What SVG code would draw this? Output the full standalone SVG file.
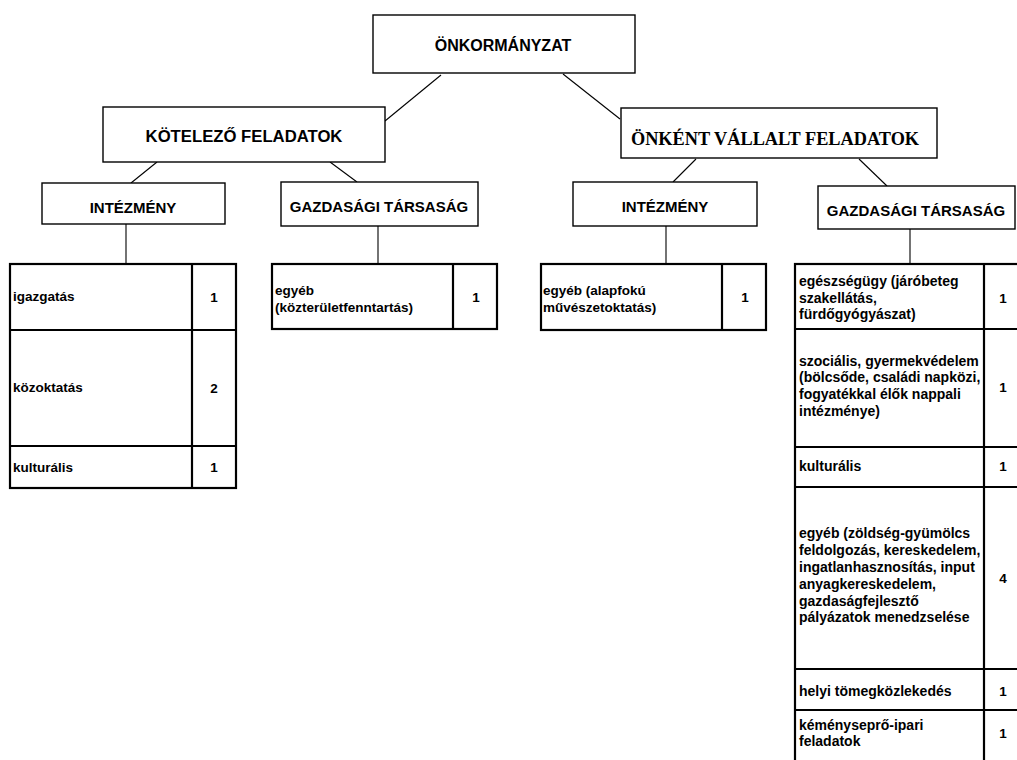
<svg xmlns="http://www.w3.org/2000/svg" width="1017" height="760" viewBox="0 0 1017 760">
<style>
.box{fill:#fff;stroke:#000;stroke-width:1.4}
.tb{fill:none;stroke:#000;stroke-width:2.2}
.h{font-family:"Liberation Sans",Arial,sans-serif;font-weight:bold;fill:#000;text-anchor:middle}
.t{font-family:"Liberation Sans",Arial,sans-serif;font-weight:bold;font-size:13.5px;fill:#000}
.t4{font-family:"Liberation Sans",Arial,sans-serif;font-weight:bold;font-size:14px;fill:#000}
.n{font-family:"Liberation Sans",Arial,sans-serif;font-weight:bold;font-size:13.5px;fill:#000;text-anchor:middle}
.c{stroke:#000;stroke-width:1.1;fill:none}
</style>
<rect width="1017" height="760" fill="#fff"/>
<g id="connectors">
<line class="c" x1="441" y1="75" x2="385" y2="121"/>
<line class="c" x1="563" y1="74" x2="620" y2="119"/>
<line class="c" x1="157" y1="162" x2="131" y2="183"/>
<line class="c" x1="330" y1="162" x2="357" y2="182"/>
<line class="c" x1="696" y1="159" x2="673" y2="182"/>
<line class="c" x1="859" y1="159" x2="887" y2="186"/>
<line class="c" x1="126" y1="224" x2="126" y2="264"/>
<line class="c" x1="378" y1="226" x2="378" y2="264"/>
<line class="c" x1="666" y1="226" x2="666" y2="264"/>
<line class="c" x1="910" y1="229" x2="910" y2="264"/>
</g>
<g id="root">
<rect class="box" x="373" y="15" width="262" height="58"/>
<text class="h" x="503" y="51" font-size="16">ÖNKORMÁNYZAT</text>
</g>
<g id="kotelezo">
<rect class="box" x="103" y="107" width="282" height="55"/>
<text class="h" x="244" y="142" font-size="16.7">KÖTELEZŐ FELADATOK</text>
</g>
<g id="onkent">
<rect class="box" x="621" y="108" width="316" height="50"/>
<text class="h" x="775" y="145" font-size="18.3" style="font-family:'Liberation Serif','Times New Roman',serif">ÖNKÉNT VÁLLALT FELADATOK</text>
</g>
<g id="intezmeny1">
<rect class="box" x="42" y="183" width="183" height="41"/>
<text class="h" x="133" y="213" font-size="15">INTÉZMÉNY</text>
</g>
<g id="gazd1">
<rect class="box" x="281" y="182" width="197" height="44"/>
<text class="h" x="379" y="212" font-size="15">GAZDASÁGI TÁRSASÁG</text>
</g>
<g id="intezmeny2">
<rect class="box" x="573" y="182" width="184" height="44"/>
<text class="h" x="665" y="212" font-size="15">INTÉZMÉNY</text>
</g>
<g id="gazd2">
<rect class="box" x="818" y="186" width="197" height="43"/>
<text class="h" x="916" y="216" font-size="15">GAZDASÁGI TÁRSASÁG</text>
</g>
<g id="table1">
<rect class="tb" x="10" y="264" width="226" height="224"/>
<line class="tb" x1="192" y1="264" x2="192" y2="488"/>
<line class="tb" x1="10" y1="330" x2="236" y2="330"/>
<line class="tb" x1="10" y1="446" x2="236" y2="446"/>
<text class="t" x="13" y="301">igazgatás</text>
<text class="n" x="214" y="302">1</text>
<text class="t" x="13" y="392">közoktatás</text>
<text class="n" x="214" y="393">2</text>
<text class="t" x="13" y="472">kulturális</text>
<text class="n" x="214" y="472">1</text>
</g>
<g id="table2">
<rect class="tb" x="272" y="264" width="225" height="65"/>
<line class="tb" x1="453" y1="264" x2="453" y2="329"/>
<text class="t" x="275" y="295">egyéb</text>
<text class="t" x="275" y="312">(közterületfenntartás)</text>
<text class="n" x="476" y="302">1</text>
</g>
<g id="table3">
<rect class="tb" x="541" y="264" width="225" height="66"/>
<line class="tb" x1="722" y1="264" x2="722" y2="330"/>
<text class="t" x="543" y="295">egyéb (alapfokú</text>
<text class="t" x="543" y="312">művészetoktatás)</text>
<text class="n" x="745" y="302">1</text>
</g>
<g id="table4">
<rect class="tb" x="795" y="264" width="227" height="510"/>
<line class="tb" x1="984" y1="264" x2="984" y2="774"/>
<line class="tb" x1="795" y1="329" x2="1022" y2="329"/>
<line class="tb" x1="795" y1="447" x2="1022" y2="447"/>
<line class="tb" x1="795" y1="487" x2="1022" y2="487"/>
<line class="tb" x1="795" y1="669" x2="1022" y2="669"/>
<line class="tb" x1="795" y1="710" x2="1022" y2="710"/>
<text class="t4" x="799" y="286">egészségügy (járóbeteg</text>
<text class="t4" x="799" y="303">szakellátás,</text>
<text class="t4" x="799" y="319">fürdőgyógyászat)</text>
<text class="n" x="1003" y="303">1</text>
<text class="t4" x="799" y="366">szociális, gyermekvédelem</text>
<text class="t4" x="799" y="382">(bölcsőde, családi napközi,</text>
<text class="t4" x="799" y="399">fogyatékkal élők nappali</text>
<text class="t4" x="799" y="416">intézménye)</text>
<text class="n" x="1003" y="392">1</text>
<text class="t4" x="799" y="471">kulturális</text>
<text class="n" x="1003" y="471">1</text>
<text class="t4" x="799" y="538">egyéb (zöldség-gyümölcs</text>
<text class="t4" x="799" y="555">feldolgozás, kereskedelem,</text>
<text class="t4" x="799" y="572">ingatlanhasznosítás, input</text>
<text class="t4" x="799" y="589">anyagkereskedelem,</text>
<text class="t4" x="799" y="606">gazdaságfejlesztő</text>
<text class="t4" x="799" y="622">pályázatok menedzselése</text>
<text class="n" x="1003" y="583">4</text>
<text class="t4" x="799" y="696">helyi tömegközlekedés</text>
<text class="n" x="1003" y="696">1</text>
<text class="t4" x="799" y="730">kéményseprő-ipari</text>
<text class="t4" x="799" y="746">feladatok</text>
<text class="n" x="1003" y="738">1</text>
</g>
</svg>
